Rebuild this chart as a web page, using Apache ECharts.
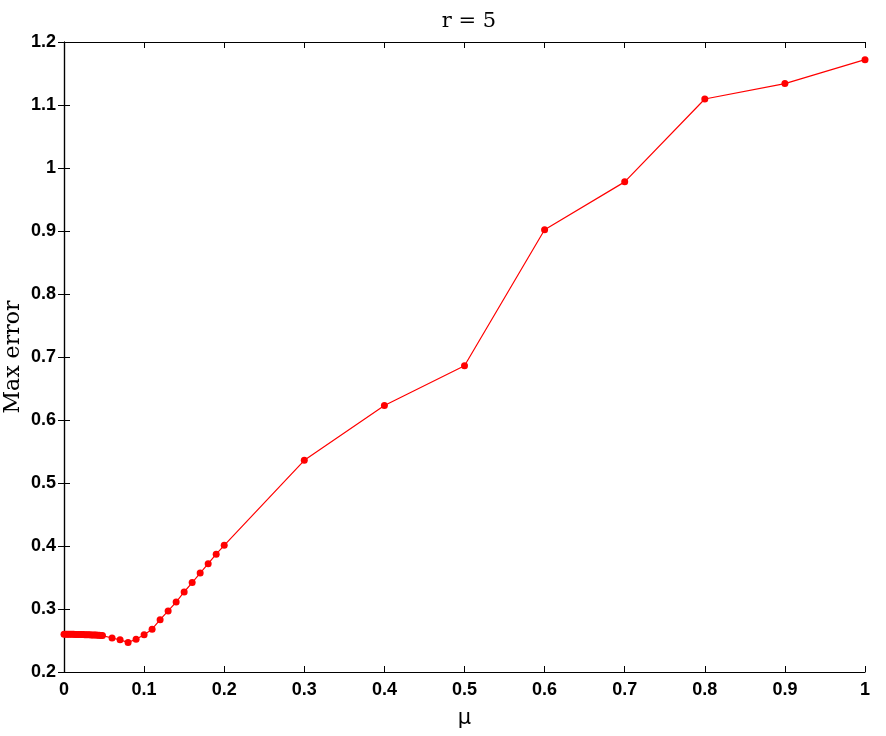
<!DOCTYPE html>
<html>
<head>
<meta charset="utf-8">
<script src="https://cdn.jsdelivr.net/npm/echarts@6/dist/echarts.min.js"></script>
<style>
  html, body { margin: 0; padding: 0; background: #fff; }
  #main { width: 886px; height: 736px; }
</style>
</head>
<body>
<div id="main"></div>
<script>
// mu values and max error
const muDense = [0, 0.002, 0.004, 0.006, 0.008, 0.01, 0.012, 0.014, 0.016, 0.018,
  0.02, 0.022, 0.024, 0.026, 0.028, 0.03, 0.032, 0.034, 0.036, 0.038,
  0.04, 0.042, 0.044, 0.046, 0.048];
const errDense = [0.2600, 0.2600, 0.2600, 0.2599, 0.2599, 0.2598, 0.2598, 0.2597, 0.2597, 0.2596,
  0.2596, 0.2595, 0.2594, 0.2593, 0.2592, 0.2591, 0.2590, 0.2589, 0.2588, 0.2587,
  0.2586, 0.2584, 0.2582, 0.2580, 0.2578];
const muMid = [0.06, 0.07, 0.08, 0.09, 0.1, 0.11, 0.12, 0.13, 0.14, 0.15, 0.16, 0.17, 0.18, 0.19, 0.2];
const errMid = [0.254, 0.251, 0.247, 0.252, 0.259, 0.268, 0.283, 0.297, 0.311, 0.327, 0.342, 0.357, 0.372, 0.387, 0.401];
const muCoarse = [0.3, 0.4, 0.5, 0.6, 0.7, 0.8, 0.9, 1.0];
const errCoarse = [0.536, 0.623, 0.686, 0.902, 0.978, 1.1095, 1.134, 1.172];

const mu = muDense.concat(muMid, muCoarse);
const err = errDense.concat(errMid, errCoarse);
const points = mu.map((m, i) => [m, err[i]]);

const tickFont = { color: "#000", fontSize: 18, fontWeight: "bold", fontFamily: "Liberation Sans" };
const serif = "DejaVu Serif";

var myChart = echarts.init(document.getElementById("main"));
const options = {
  animation: false,
  title: {
    text: "r = 5",
    left: 464,
    top: 6,
    textAlign: "center",
    textStyle: { fontFamily: serif, fontWeight: "normal", fontSize: 21, color: "#000" },
  },
  grid: { left: 64, right: 21, top: 42, bottom: 64, containLabel: false, outerBoundsMode: "none" },
  xAxis: [
    {
      type: "value",
      min: 0,
      max: 1,
      interval: 0.1,
      name: "μ",
      nameLocation: "middle",
      nameGap: 36,
      nameTextStyle: { fontFamily: "DejaVu Sans", fontSize: 21, color: "#000" },
      axisLine: { lineStyle: { color: "#000", width: 1.2 } },
      axisTick: { inside: true, length: 6, lineStyle: { color: "#000" } },
      axisLabel: Object.assign({ margin: 9 }, tickFont),
      splitLine: { show: false },
    },
    {
      type: "value",
      position: "top",
      min: 0,
      max: 1,
      interval: 0.1,
      axisLine: { show: true, lineStyle: { color: "#000", width: 1.2 } },
      axisTick: { inside: true, length: 6, lineStyle: { color: "#000" } },
      axisLabel: { show: false },
      splitLine: { show: false },
    },
  ],
  yAxis: [
    {
      type: "value",
      min: 0.2,
      max: 1.2,
      interval: 0.1,
      name: "Max error",
      nameLocation: "middle",
      nameGap: 40,
      nameMoveOverlap: false,
      nameTextStyle: { fontFamily: serif, fontSize: 22, color: "#000" },
      axisLine: { show: true, lineStyle: { color: "#000", width: 1.2 } },
      axisTick: { inside: true, length: 6, lineStyle: { color: "#000" } },
      axisLabel: Object.assign({ margin: 8 }, tickFont),
      splitLine: { show: false },
    },
    {
      type: "value",
      position: "right",
      min: 0.2,
      max: 1.2,
      interval: 0.1,
      axisLine: { show: true, lineStyle: { color: "#000", width: 1.2 } },
      axisTick: { inside: true, length: 6, lineStyle: { color: "#000" } },
      axisLabel: { show: false },
      splitLine: { show: false },
    },
  ],
  series: [
    {
      type: "line",
      data: points,
      symbol: "circle",
      symbolSize: 7,
      showAllSymbol: true,
      lineStyle: { color: "#ff0000", width: 1.2 },
      itemStyle: { color: "#ff0000" },
    },
  ],
};
myChart.setOption(options);
</script>
</body>
</html>
